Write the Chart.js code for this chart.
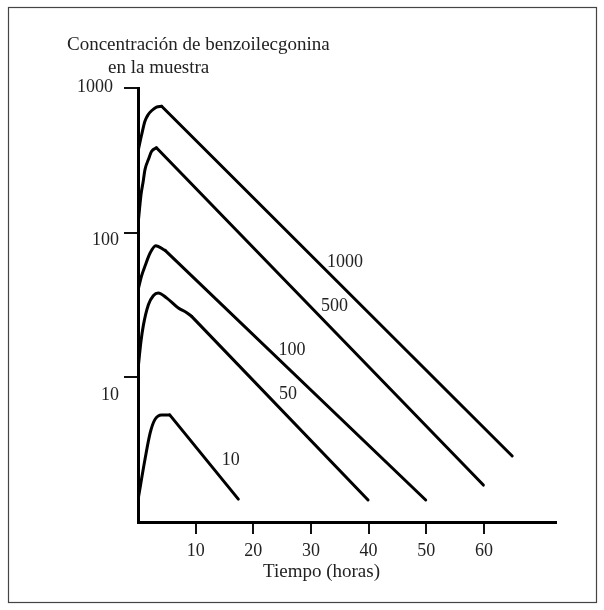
<!DOCTYPE html>
<html>
<head>
<meta charset="utf-8">
<script src="https://cdn.jsdelivr.net/npm/chart.js@4/dist/chart.umd.min.js"></script>
<style>
html,body{margin:0;padding:0;background:#fff;}
#wrap{width:604px;height:610px;position:relative;}
</style>
</head>
<body>
<div id="wrap"><canvas id="c" width="604" height="610"></canvas></div>
<script>
// ---- data (hours, concentration) ----
const doseLabels = ['1000', '500', '100', '50', '10'];

// rising part of each curve (up to where the straight decay begins)
const riseHours1000 = [0, 0.64, 1.2, 1.78, 2.4, 3.2, 4.1];
const riseConc1000  = [365, 477, 589, 656, 699, 737, 748];
const riseHours500  = [0, 0.52, 0.9, 1.21, 1.8, 2.37, 3.2];
const riseConc500   = [113, 183, 226, 273, 320, 365, 386];
const riseHours100  = [0, 0.6, 1.2, 2.1, 3.07, 4.7];
const riseConc100   = [40, 50, 58.5, 72.3, 81.3, 75.4];
const riseHours50   = [0, 0.5, 0.9, 1.8, 2.65, 3.5, 5.0, 7.0, 8.4, 9.3];
const riseConc50    = [11.3, 17.5, 22.5, 31.7, 36.6, 38.3, 35.3, 30.1, 28.1, 26.4];
const riseHours10   = [0, 1.2, 2.1, 2.9, 4.1, 5.5];
const riseConc10    = [1.42, 2.69, 4.11, 5.08, 5.5, 5.5];

// end of straight log-linear decay
const endHours = [64.9, 59.9, 49.9, 39.9, 17.4];
const endConc  = [2.86, 1.80, 1.42, 1.42, 1.44];

// curve label anchors (data units)
const labelHours = [35.9, 34.1, 26.7, 26.0, 16.1];
const labelConc  = [62.7, 31.1, 15.5, 7.67, 2.68];

// axes
const xTicks = [10, 20, 30, 40, 50, 60];
const yTicks = [10, 100, 1000];
const yTickLabels = ['10', '100', '1000'];
const xTitle = 'Tiempo (horas)';
const yTitle1 = 'Concentración de benzoilecgonina';
const yTitle2 = 'en la muestra';

// ---- build datasets ----
const rises = [
  [riseHours1000, riseConc1000],
  [riseHours500, riseConc500],
  [riseHours100, riseConc100],
  [riseHours50, riseConc50],
  [riseHours10, riseConc10]
];
const datasets = [];
rises.forEach(([hx, cy], i) => {
  const pts = hx.map((h, k) => ({x: h, y: cy[k]}));
  datasets.push({
    label: doseLabels[i] + ' rise',
    data: pts,
    borderColor: '#000', borderWidth: 3, pointRadius: 0,
    cubicInterpolationMode: 'monotone', fill: false,
    borderCapStyle: 'round', borderJoinStyle: 'round'
  });
  const last = pts[pts.length - 1];
  datasets.push({
    label: doseLabels[i],
    data: [last, {x: endHours[i], y: endConc[i]}],
    borderColor: '#000', borderWidth: 3, pointRadius: 0,
    tension: 0, fill: false,
    borderCapStyle: 'round', borderJoinStyle: 'round'
  });
});

const FONT = "'Liberation Serif', 'Times New Roman', serif";
const TXT = '#222';

const decor = {
  id: 'decor',
  beforeDraw(chart) {
    const ctx = chart.ctx;
    ctx.save();
    ctx.fillStyle = '#fff';
    ctx.fillRect(0, 0, chart.width, chart.height);
    ctx.strokeStyle = '#444';
    ctx.lineWidth = 1.2;
    ctx.strokeRect(8.5, 7.5, 588, 595);
    ctx.restore();
  },
  afterDraw(chart) {
    const ctx = chart.ctx;
    const xs = chart.scales.x, ys = chart.scales.y;
    ctx.save();
    ctx.fillStyle = TXT;
    ctx.font = '18px ' + FONT;
    // y tick labels
    const yOff = [18, 8, -1];
    const xRight = [119, 119, 113];
    ctx.textAlign = 'right';
    ctx.textBaseline = 'middle';
    yTicks.forEach((v, i) => {
      ctx.fillText(yTickLabels[i], xRight[i], ys.getPixelForValue(v) + yOff[i]);
    });
    // curve labels
    ctx.textAlign = 'center';
    doseLabels.forEach((t, i) => {
      ctx.fillText(t, xs.getPixelForValue(labelHours[i]), ys.getPixelForValue(labelConc[i]));
    });
    // titles
    ctx.font = '19px ' + FONT;
    ctx.textAlign = 'left';
    ctx.textBaseline = 'alphabetic';
    ctx.fillText(yTitle1, 67, 50);
    ctx.fillText(yTitle2, 108, 73);
    ctx.textAlign = 'right';
    ctx.textBaseline = 'middle';
    ctx.fillText(xTitle, 380, 572);
    ctx.restore();
  }
};

new Chart(document.getElementById('c'), {
  type: 'line',
  data: {datasets},
  plugins: [decor],
  options: {
    responsive: false,
    animation: false,
    layout: {padding: {left: 0, top: 88, right: 48, bottom: 0}},
    plugins: {legend: {display: false}, tooltip: {enabled: false}},
    scales: {
      x: {
        type: 'linear', min: 0, max: 72.5,
        afterBuildTicks: s => { s.ticks = xTicks.map(v => ({value: v})); },
        afterFit: s => { s.height = 88; },
        grid: {drawOnChartArea: false, drawTicks: true, tickLength: 12, color: '#111', lineWidth: 2},
        border: {display: true, color: '#000', width: 3},
        ticks: {font: {family: FONT, size: 18}, color: TXT, padding: 6, maxRotation: 0, autoSkip: false}
      },
      y: {
        type: 'logarithmic', min: 1, max: 1000,
        afterBuildTicks: s => { s.ticks = yTicks.map(v => ({value: v})); },
        afterFit: s => { s.width = 138; },
        grid: {drawOnChartArea: false, drawTicks: true, tickLength: 14, color: '#111', lineWidth: 2},
        border: {display: true, color: '#000', width: 3},
        ticks: {display: false}
      }
    }
  }
});
</script>
</body>
</html>
